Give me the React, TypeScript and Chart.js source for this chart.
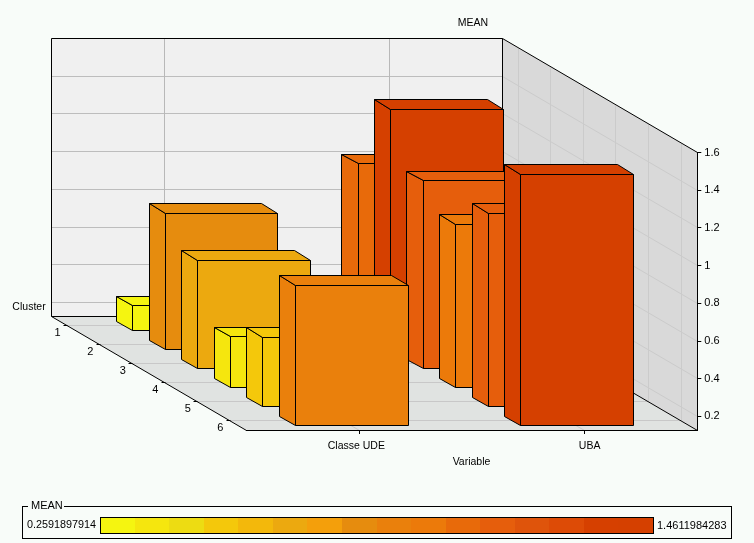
import React, { useEffect, useRef } from "react";
import { Chart, registerables } from "chart.js";

Chart.register(...registerables);

const variables = ["Classe UDE", "UBA"];
const clusters = ["1", "2", "3", "4", "5", "6"];
const classeUde = [0.2592, 0.852, 0.7035, 0.399, 0.4966, 0.873];
const uba = [1.012, 1.4035, 1.125, 0.995, 1.154, 1.4612];
const gridValues = [0.2, 0.4, 0.6, 0.8, 1, 1.2, 1.4, 1.6];
const meanMin = 0.2591897914;
const meanMax = 1.4611984283;
const meanMinLabel = "0.2591897914";
const meanMaxLabel = "1.4611984283";
const palette = [
  "#F5F510", "#F5E60E", "#EDDC12", "#F4C80B", "#F3B80B", "#ECA90F", "#F49F0B", "#E68C0E",
  "#EA800C", "#EC7A0A", "#E86A0A", "#E65E0C", "#DF540B", "#DD4B06", "#D64000", "#D54000",
];

const DX = 32.55;
const DY = 19;
const FONT_FAMILY = "'Liberation Sans', Arial, sans-serif";
const FONT = `10.5px ${FONT_FAMILY}`;
const NUM_FONT = `11px ${FONT_FAMILY}`;
const BG = "#F8FCF9";

const colorFor = (v: number) => {
  const i = Math.floor(((v - meanMin) / (meanMax - meanMin)) * palette.length);
  return palette[Math.max(0, Math.min(palette.length - 1, i))];
};

const snap = (n: number) => Math.round(n - 0.5) + 0.5;

function poly(ctx: CanvasRenderingContext2D, pts: number[][], fill?: string, stroke?: string) {
  ctx.beginPath();
  pts.forEach(([x, y], i) => (i ? ctx.lineTo(snap(x), snap(y)) : ctx.moveTo(snap(x), snap(y))));
  ctx.closePath();
  if (fill) {
    ctx.fillStyle = fill;
    ctx.fill();
  }
  if (stroke) {
    ctx.strokeStyle = stroke;
    ctx.lineWidth = 1;
    ctx.stroke();
  }
}

function seg(ctx: CanvasRenderingContext2D, x1: number, y1: number, x2: number, y2: number, color: string) {
  ctx.beginPath();
  ctx.moveTo(snap(x1), snap(y1));
  ctx.lineTo(snap(x2), snap(y2));
  ctx.strokeStyle = color;
  ctx.lineWidth = 1;
  ctx.stroke();
}

function text(
  ctx: CanvasRenderingContext2D,
  s: string,
  x: number,
  y: number,
  align: CanvasTextAlign = "center",
  font: string = FONT
) {
  ctx.font = font;
  ctx.fillStyle = "#000";
  ctx.textAlign = align;
  ctx.textBaseline = "middle";
  ctx.fillText(s, x, y);
}

const scene3d = {
  id: "scene3d",
  beforeDraw(chart: any) {
    const { ctx, scales } = chart;
    const { x, y } = scales;
    const L = x.left;
    const R = x.right;
    const B = y.bottom;
    const T = y.top;
    const n = clusters.length;
    const bx = DX * n;
    const by = DY * n;
    ctx.save();
    ctx.fillStyle = BG;
    ctx.fillRect(0, 0, chart.width, chart.height);
    poly(ctx, [[L - bx, T - by], [R - bx, T - by], [R - bx, B - by], [L - bx, B - by]], "#F0F0F0");
    poly(ctx, [[R - bx, T - by], [R, T], [R, B], [R - bx, B - by]], "#D9D9D9");
    poly(ctx, [[L - bx, B - by], [R - bx, B - by], [R, B], [L, B]], "#E0E3E1");
    gridValues.slice(0, -1).forEach((v) => {
      const py = y.getPixelForValue(v);
      seg(ctx, L - bx, py - by, R - bx, py - by, "#BDBDBD");
      seg(ctx, R - bx, py - by, R, py, "#CBCBCB");
    });
    variables.forEach((_, i) => {
      const px = x.getPixelForTick(i);
      seg(ctx, px - bx, T - by, px - bx, B - by, "#B8B8B8");
      seg(ctx, px - bx, B - by, px, B, "#C8C8C8");
    });
    clusters.forEach((_, i) => {
      const t = i + 0.5;
      seg(ctx, R - t * DX, T - t * DY, R - t * DX, B - t * DY, "#CBCBCB");
      seg(ctx, L - t * DX, B - t * DY, R - t * DX, B - t * DY, "#C8C8C8");
    });
    seg(ctx, L - bx, T - by, R - bx, T - by, "#000");
    seg(ctx, L - bx, T - by, L - bx, B - by, "#000");
    seg(ctx, L - bx, B - by, R - bx, B - by, "#000");
    seg(ctx, R - bx, T - by, R - bx, B - by, "#000");
    seg(ctx, R - bx, T - by, R, T, "#000");
    seg(ctx, L - bx, B - by, L, B, "#000");
    seg(ctx, R - bx, B - by, R, B, "#000");
    ctx.restore();
  },
  afterDatasetsDraw(chart: any) {
    const { ctx, scales } = chart;
    const { x, y } = scales;
    const B = y.bottom;
    const n = clusters.length;
    const halfW = (x.right - x.left) / variables.length / 4;
    ctx.save();
    ctx.lineJoin = "miter";
    chart.data.datasets.forEach((ds: any, c: number) => {
      const front = n - 1 - c + 0.23;
      const back = front + 0.5;
      ds.data.forEach((v: number, i: number) => {
        const cx = x.getPixelForTick(i);
        const col = colorFor(v);
        const top = y.getPixelForValue(v);
        const x0 = cx - halfW - front * DX;
        const x1 = cx + halfW - front * DX;
        const x0b = cx - halfW - back * DX;
        const x1b = cx + halfW - back * DX;
        const yfT = top - front * DY;
        const ybT = top - back * DY;
        const yfB = B - front * DY;
        const ybB = B - back * DY;
        poly(ctx, [[x0b, ybT], [x0, yfT], [x0, yfB], [x0b, ybB]], col, "#000");
        poly(ctx, [[x0b, ybT], [x1b, ybT], [x1, yfT], [x0, yfT]], col, "#000");
        poly(ctx, [[x0, yfT], [x1, yfT], [x1, yfB], [x0, yfB]], col, "#000");
      });
    });
    ctx.restore();
  },
  afterDraw(chart: any) {
    const { ctx, scales } = chart;
    const { x, y } = scales;
    const B = y.bottom;
    ctx.save();
    // titles
    text(ctx, "MEAN", 473, 23);
    text(ctx, "Variable", 471.5, 462);
    text(ctx, "Cluster", 29, 307);
    // variable labels
    const labelShift = [-3, 5];
    variables.forEach((name, i) => text(ctx, name, x.getPixelForTick(i) + labelShift[i], 446));
    // cluster axis
    clusters.forEach((name, i) => {
      const t = clusters.length - i - 0.5;
      const px = x.left - t * DX;
      const py = B - t * DY;
      seg(ctx, px - 4, py, px, py, "#000");
      text(ctx, name, px - 10, py + 7, "center", NUM_FONT);
    });
    // legend
    const gx0 = 22.5;
    const gx1 = 731.5;
    const gy0 = 506.5;
    const gy1 = 538.5;
    ctx.strokeStyle = "#000";
    ctx.lineWidth = 1;
    ctx.strokeRect(gx0, gy0, gx1 - gx0, gy1 - gy0);
    ctx.fillStyle = BG;
    ctx.fillRect(28, 500, 36, 12);
    text(ctx, "MEAN", 31, 506, "left", NUM_FONT);
    text(ctx, meanMinLabel, 96, 525.5, "right", "10.8px " + FONT_FAMILY);
    text(ctx, meanMaxLabel, 657, 525.5, "left", NUM_FONT);
    const bx0 = 100;
    const bw = 553;
    const cell = bw / palette.length;
    palette.forEach((c, i) => {
      ctx.fillStyle = c;
      ctx.fillRect(bx0 + Math.round(i * cell), 517, Math.round((i + 1) * cell) - Math.round(i * cell), 16);
    });
    ctx.strokeStyle = "#000";
    ctx.strokeRect(bx0 + 0.5, 517.5, bw, 16);
    ctx.restore();
  },
};

export default function App() {
  const ref = useRef<HTMLCanvasElement>(null);
  useEffect(() => {
    document.body.style.margin = "0";
    document.body.style.background = BG;
    const chart = new Chart(ref.current as HTMLCanvasElement, {
      type: "bar",
      data: {
        labels: variables,
        datasets: clusters.map((name, i) => ({
          label: `Cluster ${name}`,
          data: [classeUde[i], uba[i]],
          backgroundColor: "transparent",
          borderWidth: 0,
        })),
      },
      options: {
        responsive: false,
        animation: false,
        events: [],
        layout: { padding: { left: 246.7, top: 152.5, right: 0, bottom: 0 } },
        plugins: { legend: { display: false }, tooltip: { enabled: false }, title: { display: false } },
        scales: {
          x: {
            type: "category",
            afterFit: (s: any) => {
              s.height = 113;
            },
            ticks: { display: false },
            border: { display: true, color: "#000", width: 1 },
            grid: { drawOnChartArea: false, drawTicks: true, tickLength: 4, tickColor: "#000", offset: false },
          },
          y: {
            type: "linear",
            position: "right",
            min: 0.128,
            max: 1.6,
            afterFit: (s: any) => {
              s.width = 56.7;
            },
            ticks: {
              stepSize: 0.2,
              includeBounds: false,
              padding: 3,
              color: "#000",
              font: { family: FONT_FAMILY, size: 11 },
              callback: (v: any) => String(+Number(v).toFixed(1)),
            },
            border: { display: true, color: "#000", width: 1 },
            grid: { drawOnChartArea: false, drawTicks: true, tickLength: 4, tickColor: "#000" },
          },
        },
      } as any,
      plugins: [scene3d],
    });
    return () => chart.destroy();
  }, []);
  return (
    <div style={{ position: "absolute", left: 0, top: 0, width: 754, height: 543 }}>
      <canvas ref={ref} width={754} height={543} style={{ display: "block" }} />
    </div>
  );
}
